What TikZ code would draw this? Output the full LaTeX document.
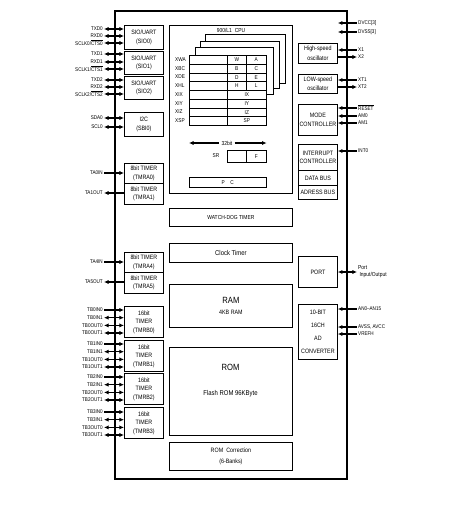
\documentclass[tikz,border=0pt]{standalone}
\usepackage{fontspec}
\setmainfont{Liberation Sans}[FakeStretch=0.85]
\usetikzlibrary{positioning,arrows.meta}
\newcommand{\barsig}[1]{\ensuremath{\overline{\mbox{#1}}}}

\begin{document}
\begin{tikzpicture}[x=1pt,y=-1pt,>={Latex[length=4.6pt,width=4.2pt]},
  blk/.style={draw,line width=0.8pt,fill=white,anchor=north west,inner sep=0pt,align=center,font=\fontsize{6.3}{8.5}\selectfont},
  big/.style={inner sep=0pt,font=\fontsize{9}{10}\selectfont},
  txt/.style={inner sep=0pt,font=\fontsize{7}{8}\selectfont},
  sig/.style={inner sep=1pt,font=\fontsize{5.4}{6}\selectfont},
  cell/.style={draw,line width=0.6pt,fill=white,anchor=north west,inner sep=0pt,font=\fontsize{5.6}{6}\selectfont},
  pin/.style={line width=1.3pt},
  inward/.style={->},outward/.style={<-},bidir/.style={<->}]
\useasboundingbox (0,0) rectangle (472,509);
% chip outline, the two side buses
\draw[line width=1.4pt] (115,11) rectangle (347,479);
\draw[line width=2.6pt] (115,11) -- (115,479) (347,11) -- (347,479);

% left column
\node[blk,minimum width=39,minimum height=24] (sio0) at (124,25) {SIO/UART\\(SIO0)};
\node[blk,minimum width=39,minimum height=23] (sio1) at (124,51) {SIO/UART\\(SIO1)};
\node[blk,minimum width=39,minimum height=23] (sio2) at (124,76) {SIO/UART\\(SIO2)};
\node[blk,minimum width=39,minimum height=24] (i2c) at (124,112) {I2C\\(SBI0)};
\node[blk,minimum width=39,minimum height=20] (tmra0) at (124,163) {8bit TIMER\\(TMRA0)};
\node[blk,minimum width=39,minimum height=21] (tmra1) at (124,183) {8bit TIMER\\(TMRA1)};
\node[blk,minimum width=39,minimum height=20] (tmra4) at (124,252) {8bit TIMER\\(TMRA4)};
\node[blk,minimum width=39,minimum height=21] (tmra5) at (124,272) {8bit TIMER\\(TMRA5)};
\foreach \g/\y in {0/306,1/340,2/373,3/407}
  \node[blk,minimum width=39,minimum height=31] (tmrb\g) at (124,\y) {16bit\\TIMER\\(TMRB\g)};

\foreach \n/\t/\y/\a/\b in {txd0/TXD0/29/bidir/sio0, rxd0/RXD0/36/bidir/sio0,
    sclk0/{SCLK0/\barsig{CTS0}}/43/bidir/sio0,
    txd1/TXD1/54/bidir/sio1, rxd1/RXD1/62/bidir/sio1,
    sclk1/{SCLK1/\barsig{CTS1}}/69/bidir/sio1,
    txd2/TXD2/80/bidir/sio2, rxd2/RXD2/87/bidir/sio2,
    sclk2/{SCLK2/\barsig{CTS2}}/94/bidir/sio2,
    sda0/SDA0/118/bidir/i2c, scl0/SCL0/127/bidir/i2c,
    ta0in/TA0IN/173/inward/tmra0, ta1out/TA1OUT/193/outward/tmra1,
    ta4in/TA4IN/262/inward/tmra4, ta5out/TA5OUT/282/outward/tmra5}{
  \node[sig,anchor=east] (\n) at (104,\y) {\t};
  \draw[pin,\a] (\n) -- (\b.west |- \n);
}
\foreach \g/\y in {0/310,1/344,2/377,3/412}{
  \node[sig,anchor=east] (tb\g in0) at (104,\y) {TB\g IN0};
  \node[sig,anchor=east] (tb\g in1) at (104,\y+7.7) {TB\g IN1};
  \node[sig,anchor=east] (tb\g out0) at (104,\y+15.4) {TB\g OUT0};
  \node[sig,anchor=east] (tb\g out1) at (104,\y+23) {TB\g OUT1};
  \draw[pin,->] (tb\g in0) -- (tmrb\g.west |- tb\g in0);
  \draw[pin,<->] (tb\g in1) -- (tmrb\g.west |- tb\g in1);
  \draw[pin,<->] (tb\g out0) -- (tmrb\g.west |- tb\g out0);
  \draw[pin,<->] (tb\g out1) -- (tmrb\g.west |- tb\g out1);
}

% CPU core
\node[blk,minimum width=123,minimum height=168] (cpu) at (169,25) {};
\draw[line width=0.6pt,fill=white] (205,34.5) rectangle (285,83);
\draw[line width=0.6pt,fill=white] (200,41) rectangle (279,88);
\draw[line width=0.6pt,fill=white] (195,47.5) rectangle (273,94);
\node[sig,font=\fontsize{5.8}{6}\selectfont] (core) at (231,30) {900/L1\enspace CPU};
\foreach \r/\h/\l [count=\i from 0] in {XWA/W/A,XBC/B/C,XDE/D/E,XHL/H/L}{
  \node[cell,minimum width=38,minimum height=8.75] (reg\i) at (189,55+8.75*\i) {};
  \node[cell,minimum width=19,minimum height=8.75] (hi\i) at (227,55+8.75*\i) {\h};
  \node[cell,minimum width=20,minimum height=8.75] (lo\i) at (246,55+8.75*\i) {\l};
  \node[sig,anchor=west,font=\fontsize{5.6}{6}\selectfont] (rn\i) at (174,59.4+8.75*\i) {\r};
}
\foreach \r/\s [count=\i from 4] in {XIX/IX,XIY/IY,XIZ/IZ,XSP/SP}{
  \node[cell,minimum width=38,minimum height=8.75] (reg\i) at (189,55+8.75*\i) {};
  \node[cell,minimum width=39,minimum height=8.75] (hl\i) at (227,55+8.75*\i) {\s};
  \node[sig,anchor=west,font=\fontsize{5.6}{6}\selectfont] (rn\i) at (174,59.4+8.75*\i) {\r};
}
\node[sig,font=\fontsize{5.8}{6}\selectfont,inner sep=2pt] (bits) at (227,143) {32bit};
\draw[pin,<-] (reg7.west |- bits) -- (bits);
\draw[pin,->] (bits) -- (lo3.east |- bits);
\node[cell,minimum width=19,minimum height=12] (sr) at (227,150) {};
\node[cell,minimum width=20,minimum height=12] (flag) at (246,150) {F};
\node[sig,font=\fontsize{5.6}{6}\selectfont] (srname) at (216,156) {SR};
\node[cell,minimum width=77,minimum height=10] (pc) at (189,177) {P\quad C};

% middle column
\node[blk,minimum width=123,minimum height=18,font=\fontsize{5.8}{7}\selectfont] (wdt) at (169,208) {WATCH-DOG TIMER};
\node[blk,minimum width=123,minimum height=19,font=\fontsize{7}{8}\selectfont] (clk) at (169,243) {Clock Timer};
\node[blk,minimum width=123,minimum height=43] (ram) at (169,284) {{\fontsize{9}{10}\selectfont RAM}\\[2pt]4KB RAM};
\node[blk,minimum width=123,minimum height=88] (rom) at (169,347) {};
\node[big] (romname) at (230.5,367) {ROM};
\node[txt] (romsize) at (230.5,394) {Flash ROM 96KByte};
\node[blk,minimum width=123,minimum height=28,font=\fontsize{6.3}{11}\selectfont] (romc) at (169,442) {ROM\enspace Correction\\(6-Banks)};

% right column
\node[blk,minimum width=39,minimum height=20,font=\fontsize{6.3}{9.5}\selectfont] (hosc) at (298,43) {High-speed\\oscillator};
\node[blk,minimum width=39,minimum height=19,font=\fontsize{6.3}{9}\selectfont] (losc) at (298,74) {LOW-speed\\oscillator};
\node[blk,minimum width=39,minimum height=31] (mode) at (298,104) {MODE\\CONTROLLER};
\node[blk,minimum width=39,minimum height=26] (intc) at (298,144) {INTERRUPT\\CONTROLLER};
\node[blk,minimum width=39,minimum height=15] (dbus) at (298,170) {DATA BUS};
\node[blk,minimum width=39,minimum height=14] (abus) at (298,185) {ADRESS BUS};
\node[blk,minimum width=39,minimum height=31] (port) at (298,256) {PORT};
\node[blk,minimum width=39,minimum height=55,font=\fontsize{6.3}{13}\selectfont] (adc) at (298,304) {10-BIT\\16CH\\AD\\CONVERTER};

\foreach \n/\t/\y/\a/\b in {dvcc/DVCC[3]/23/inward/hosc, dvss/DVSS[3]/32/inward/hosc,
    x1/X1/50/inward/hosc, x2/X2/57/outward/hosc,
    xt1/XT1/80/inward/losc, xt2/XT2/87/outward/losc,
    reset/\barsig{RESET}/108/inward/mode, am0/AM0/116/inward/mode, am1/AM1/123/inward/mode,
    int0/INT0/151/inward/intc,
    an/AN0--AN15/309/inward/adc, avss/{AVSS, AVCC}/327/inward/adc, vref/VREFH/334/inward/adc}{
  \node[sig,anchor=west] (\n) at (357,\y) {\t};
  \draw[pin,\a] (\n) -- (\b.east |- \n);
}
\node[sig,anchor=west,align=left,font=\fontsize{5.8}{7}\selectfont] (pio) at (357,272) {Port\\\ Input/Output};
\draw[pin,<->] (port.east |- pio) -- (pio);
\end{tikzpicture}
\end{document}
